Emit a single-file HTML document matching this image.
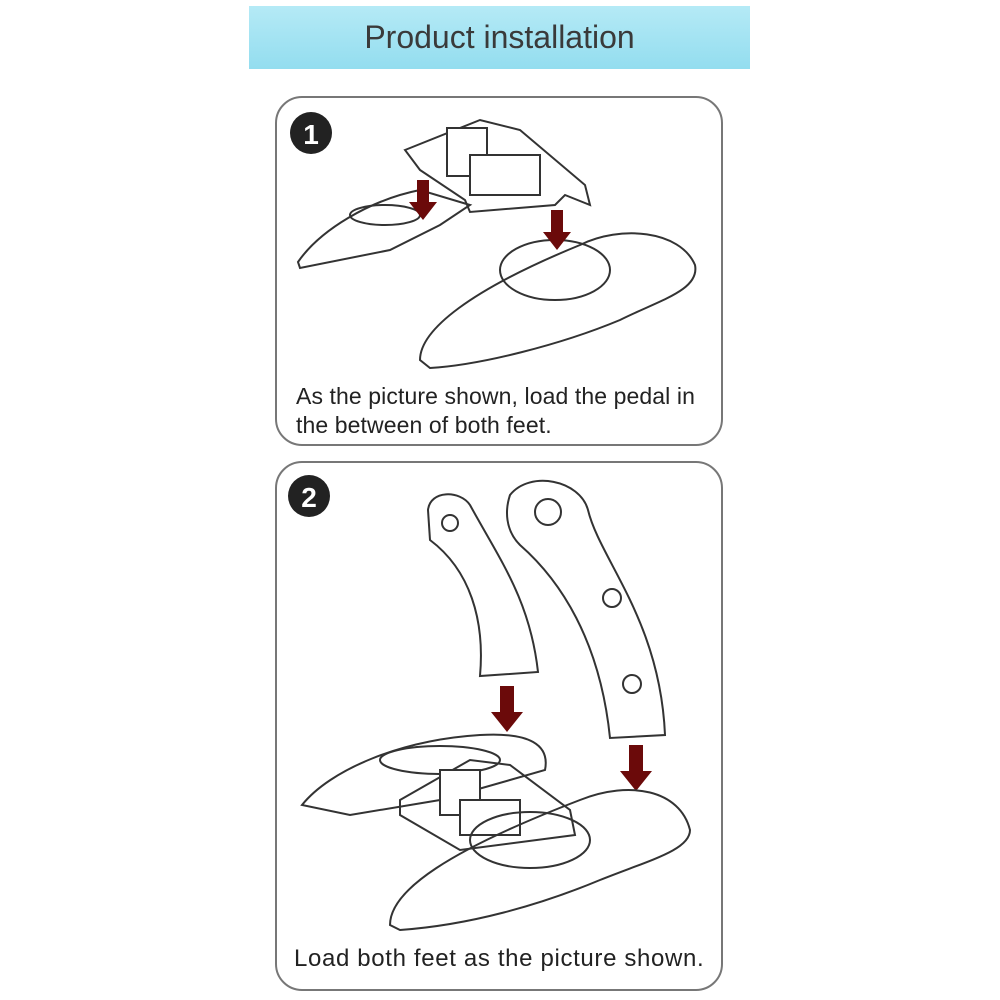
<!DOCTYPE html>
<html><head><meta charset="utf-8"><style>
html,body{margin:0;padding:0;background:#fff;}
body{width:1000px;height:1000px;position:relative;overflow:hidden;font-family:"Liberation Sans",sans-serif;}
.hdr{position:absolute;left:249px;top:6px;width:501px;height:63px;background:linear-gradient(#b5eaf6,#93ddef);}
.hdr div{text-align:center;font-size:32px;color:#3a3a3a;line-height:63px;}
.txt{position:absolute;font-size:23px;color:#222;line-height:29px;white-space:nowrap;}
</style></head><body>
<div class="hdr"><div>Product installation</div></div>
<svg width="1000" height="1000" style="position:absolute;left:0;top:0" fill="none" stroke="#333" stroke-width="2">
<rect x="276" y="97" width="446" height="348" rx="26" stroke="#777"/>
<rect x="276" y="462" width="446" height="528" rx="26" stroke="#777"/>
<circle cx="311" cy="133" r="21" fill="#222" stroke="none"/>
<text x="311" y="144" font-size="28" font-weight="bold" fill="#fff" stroke="none" text-anchor="middle" font-family="Liberation Sans">1</text>
<circle cx="309" cy="496" r="21" fill="#222" stroke="none"/>
<text x="309" y="507" font-size="28" font-weight="bold" fill="#fff" stroke="none" text-anchor="middle" font-family="Liberation Sans">2</text>
<path d="M298 262 C320 230 370 200 420 190 L470 205 L440 225 L390 250 L300 268 Z"/>
<ellipse cx="385" cy="215" rx="35" ry="10"/>
<path d="M405 150 L480 120 L520 130 L585 185 L590 205 L565 195 L555 205 L470 212 L465 200 L420 170 Z"/>
<rect x="447" y="128" width="40" height="48" fill="#fff"/>
<rect x="470" y="155" width="70" height="40" fill="#fff"/>
<path d="M420 360 C420 330 470 290 580 245 C620 225 680 230 695 265 C700 290 660 300 620 320 C560 345 480 365 430 368 Z"/>
<ellipse cx="555" cy="270" rx="55" ry="30"/>
<g fill="#6b0a0a" stroke="none">
<path d="M417 180h12v22h8l-14 18l-14-18h8z"/>
<path d="M551 210h12v22h8l-14 18l-14-18h8z"/>
<path d="M500 686h14v26h9l-16 20l-16-20h9z"/>
<path d="M629 745h14v26h9l-16 20l-16-20h9z"/>
</g>
<path d="M428 510 C430 490 460 490 470 505 C500 560 530 600 538 672 L480 676 C485 620 470 570 430 540 Z"/>
<circle cx="450" cy="523" r="8"/>
<path d="M510 495 C530 470 580 480 588 510 C600 560 660 620 665 735 L610 738 C600 640 560 580 520 545 C505 530 505 510 510 495 Z"/>
<circle cx="548" cy="512" r="13"/>
<circle cx="612" cy="598" r="9"/><circle cx="632" cy="684" r="9"/>
<path d="M302 805 C330 770 400 740 480 735 C530 732 550 745 545 770 L440 800 L350 815 Z"/>
<ellipse cx="440" cy="760" rx="60" ry="14"/>
<path d="M400 800 L470 760 L510 765 L570 810 L575 835 L460 850 L400 815 Z"/>
<rect x="440" y="770" width="40" height="45" fill="#fff"/>
<rect x="460" y="800" width="60" height="35" fill="#fff"/>
<path d="M390 925 C390 890 450 850 580 800 C630 780 680 790 690 830 C690 850 650 860 600 880 C540 905 470 925 400 930 Z"/>
<ellipse cx="530" cy="840" rx="60" ry="28"/>
</svg>
<div class="txt" style="left:296px;top:382px;letter-spacing:0.1px">As the picture shown, load the pedal in</div>
<div class="txt" style="left:296px;top:411px;letter-spacing:0.1px">the between of both feet.</div>
<div class="txt" style="left:294px;top:944px;font-size:24px;letter-spacing:0.65px">Load both feet as the picture shown.</div>
</body></html>
